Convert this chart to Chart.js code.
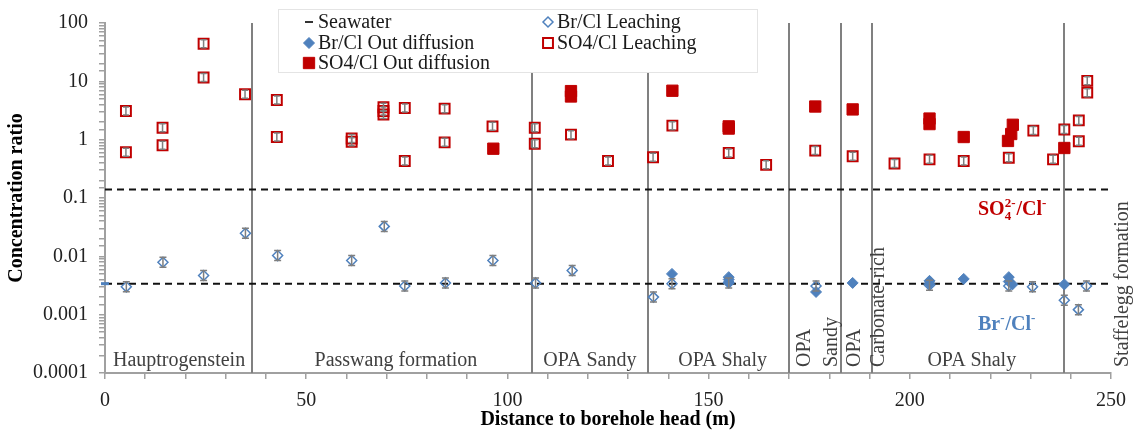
<!DOCTYPE html>
<html lang="en">
<head>
<meta charset="UTF-8">
<script src="https://cdn.jsdelivr.net/npm/chart.js"></script>
<title>Concentration ratio</title>
<style>
  body { margin: 0; background: #fff; }
  #wrap { width: 1137px; height: 432px; }
</style>
</head>
<body>
<div id="wrap"><canvas id="myChart" width="1137" height="432"></canvas></div>

<script>
// distance to borehole head (m) / ratio
const brLeachX = [5.3, 14.4, 24.5, 34.9, 42.9, 61.3, 69.4, 74.5, 84.6, 96.4, 107, 116.1, 136.3, 140.9, 155, 176.7, 204.9, 224.6, 230.5, 238.4, 241.9, 243.9];
const brLeachY = [0.0030, 0.0079, 0.0047, 0.0248, 0.0103, 0.0085, 0.0326, 0.0031, 0.0035, 0.0085, 0.0035, 0.0057, 0.0020, 0.0034, 0.0035, 0.0031, 0.0032, 0.0031, 0.0030, 0.00177, 0.00122, 0.0031];

const brDiffX = [140.9, 155, 155, 155, 176.7, 185.8, 204.9, 204.9, 213.4, 224.6, 224.6, 225.5, 238.4];
const brDiffY = [0.0050, 0.0044, 0.0040, 0.0036, 0.00245, 0.0035, 0.0038, 0.0034, 0.0041, 0.0044, 0.0037, 0.0033, 0.0033];

const so4LeachX = [5.2, 5.2, 14.3, 14.3, 24.5, 24.5, 34.8, 42.7, 42.7, 61.3, 61.3, 69.2, 69.2, 69.2, 74.5, 74.5, 84.4, 84.4, 96.3, 106.8, 106.8, 115.8, 125, 136.2, 141, 155, 164.3, 176.5, 185.8, 196.2, 204.9, 213.4, 224.6, 230.7, 235.6, 238.4, 242, 242, 244.1, 244.1];
const so4LeachY = [3.1, 0.61, 1.6, 0.80, 44, 11.6, 6.0, 4.8, 1.11, 1.05, 0.92, 3.6, 3.1, 2.7, 3.5, 0.43, 3.4, 0.90, 1.69, 1.6, 0.85, 1.22, 0.43, 0.50, 1.74, 0.59, 0.37, 0.65, 0.52, 0.39, 0.46, 0.43, 0.49, 1.43, 0.46, 1.49, 2.14, 0.94, 10.2, 6.4];

const so4DiffX = [96.5, 115.8, 115.8, 141, 155, 155, 176.5, 185.8, 204.9, 204.9, 213.4, 224.4, 225.2, 225.6, 238.4];
const so4DiffY = [0.70, 6.8, 5.5, 6.9, 1.69, 1.55, 3.7, 3.3, 2.3, 1.85, 1.11, 0.95, 1.25, 1.8, 0.72];

// seawater reference ratios
const seawaterX = [0, 250];
const seawaterSO4 = 0.14;
const seawaterBr = 0.0034;

// formation boundaries (m) and labels
const boundaries = [36.6, 106, 135, 170, 183, 190.7, 238.3];
const flatNames = ['Hauptrogenstein', 'Passwang formation', 'OPA Sandy', 'OPA Shaly', 'OPA Shaly'];
const flatAt = [18.4, 72.3, 120.5, 153.5, 215.4];
const upNames = ['OPA', 'Sandy', 'OPA', 'Carbonate-rich', 'Staffelegg formation'];
const upAt = [173.8, 180.5, 186.3, 192.2, 253];

const xTickLabels = ['0', '50', '100', '150', '200', '250'];
const yTickLabels = ['0.0001', '0.001', '0.01', '0.1', '1', '10', '100'];

const red = '#c00000';
const blue = '#4f81bd';
const fam = '"Liberation Serif", "Times New Roman", serif';

const pts = (xs, ys) => xs.map((v, i) => ({x: v, y: ys[i]}));

const overlay = {
    id: 'overlay',
    beforeDatasetsDraw(chart) {
        const {ctx, chartArea: a, scales: {x}} = chart;
        ctx.save();
        ctx.strokeStyle = '#808080';
        ctx.lineWidth = 2;
        boundaries.forEach(b => {
            const px = Math.round(x.getPixelForValue(b));
            ctx.beginPath();
            ctx.moveTo(px, a.top);
            ctx.lineTo(px, a.bottom);
            ctx.stroke();
        });
        ctx.fillStyle = '#404040';
        ctx.font = '20px ' + fam;
        ctx.textAlign = 'center';
        ctx.textBaseline = 'alphabetic';
        flatNames.forEach((n, i) => ctx.fillText(n, x.getPixelForValue(flatAt[i]), a.bottom - 7));
        upNames.forEach((n, i) => {
            ctx.save();
            ctx.translate(x.getPixelForValue(upAt[i]), a.bottom - 6);
            ctx.rotate(-Math.PI / 2);
            ctx.textAlign = 'left';
            ctx.textBaseline = 'middle';
            ctx.fillText(n, 0, 0);
            ctx.restore();
        });
        ctx.restore();
    },
    afterDatasetsDraw(chart) {
        // little error bars on the leaching points
        const ctx = chart.ctx;
        ctx.save();
        ctx.strokeStyle = '#7f7f7f';
        ctx.lineWidth = 1.5;
        chart.data.datasets.forEach((ds, i) => {
            if (!ds.errBar) return;
            const [h, w] = ds.errBar;
            chart.getDatasetMeta(i).data.forEach(p => {
                ctx.beginPath();
                ctx.moveTo(p.x, p.y - h); ctx.lineTo(p.x, p.y + h);
                ctx.moveTo(p.x - w, p.y - h); ctx.lineTo(p.x + w, p.y - h);
                ctx.moveTo(p.x - w, p.y + h); ctx.lineTo(p.x + w, p.y + h);
                ctx.stroke();
            });
        });
        ctx.restore();
    },
    afterDraw(chart) {
        const {ctx, scales: {y}} = chart;
        ctx.save();
        // legend box
        ctx.fillStyle = '#fff';
        ctx.fillRect(278, 9, 479, 63);
        ctx.strokeStyle = '#e4e4e4';
        ctx.lineWidth = 1;
        ctx.strokeRect(278.5, 9.5, 479, 63);
        const colX = [309, 548];
        const rowY = [22, 43, 63];
        ctx.font = '20px ' + fam;
        ctx.textBaseline = 'middle';
        ctx.textAlign = 'left';
        chart.data.datasets.forEach(ds => {
            if (ds.slot === undefined) return;
            const cx = colX[ds.slot % 2], cy = rowY[Math.floor(ds.slot / 2)];
            if (ds.pointStyle === 'line') {
                ctx.fillStyle = '#333';
                ctx.fillRect(cx - 4, cy - 1, 8, 2);
            } else {
                ctx.fillStyle = ds.backgroundColor;
                ctx.strokeStyle = ds.borderColor;
                ctx.lineWidth = ds.borderWidth;
                Chart.helpers.drawPoint(ctx, {pointStyle: ds.pointStyle, radius: ds.pointRadius, borderWidth: ds.borderWidth, rotation: 0}, cx, cy);
            }
            ctx.fillStyle = '#1a1a1a';
            ctx.fillText(ds.label, cx + 9, cy + 1);
        });
        // ion ratio annotations: [text, 'sub' | 'sup' | undefined, advance?]
        const ion = (parts, px, py, color) => {
            ctx.fillStyle = color;
            let cx = px;
            parts.forEach(([t, kind, keep]) => {
                ctx.font = (kind ? 'bold 13px ' : 'bold 20px ') + fam;
                const dy = kind === 'sub' ? 5 : kind === 'sup' ? -8 : 0;
                ctx.fillText(t, cx, py + dy);
                if (!keep) cx += ctx.measureText(t).width + (kind ? 1 : 0);
            });
        };
        ctx.textBaseline = 'alphabetic';
        ion([['SO'], ['4', 'sub', true], ['2-', 'sup'], ['/Cl'], ['-', 'sup']], 978, y.getPixelForValue(0.052), red);
        ion([['Br'], ['-', 'sup'], ['/Cl'], ['-', 'sup']], 978, y.getPixelForValue(0.00055), blue);
        ctx.restore();
    }
};

new Chart(document.getElementById('myChart'), {
    type: 'scatter',
    data: {
        datasets: [
            {
                label: 'Seawater', slot: 0, type: 'line', pointStyle: 'line',
                data: pts(seawaterX, [seawaterSO4, seawaterSO4]),
                borderColor: '#111', borderWidth: 2, borderDash: [7, 5], pointRadius: 0, order: 9
            },
            {
                label: 'Seawater Br', type: 'line',
                data: pts(seawaterX, [seawaterBr, seawaterBr]),
                borderColor: '#111', borderWidth: 2, borderDash: [7, 5], pointRadius: 0, order: 9
            },
            {
                label: 'Seawater Br marker',
                data: pts([0], [seawaterBr]),
                pointStyle: 'line', pointRadius: 4, borderColor: blue, borderWidth: 3, clip: false, order: 8
            },
            {
                label: 'Br/Cl Leaching', slot: 1, errBar: [5, 3.5],
                data: pts(brLeachX, brLeachY),
                pointStyle: 'rectRot', pointRadius: 5, borderWidth: 1.5,
                borderColor: blue, backgroundColor: 'rgba(255,255,255,0)', order: 1
            },
            {
                label: 'Br/Cl Out diffusion', slot: 2,
                data: pts(brDiffX, brDiffY),
                pointStyle: 'rectRot', pointRadius: 5.5, borderWidth: 1,
                borderColor: blue, backgroundColor: blue, order: 2
            },
            {
                label: 'SO4/Cl Leaching', slot: 3, errBar: [4, 3],
                data: pts(so4LeachX, so4LeachY),
                pointStyle: 'rect', pointRadius: 7, borderWidth: 2,
                borderColor: red, backgroundColor: 'rgba(255,255,255,0)', order: 3
            },
            {
                label: 'SO4/Cl Out diffusion', slot: 4,
                data: pts(so4DiffX, so4DiffY),
                pointStyle: 'rect', pointRadius: 8, borderWidth: 1,
                borderColor: red, backgroundColor: red, order: 4
            }
        ]
    },
    options: {
        responsive: false,
        animation: false,
        layout: { padding: { left: 0, right: 26, top: 21, bottom: 0 } },
        plugins: { legend: { display: false }, tooltip: { enabled: false } },
        scales: {
            x: {
                type: 'linear', min: 0, max: 250,
                afterFit: s => { s.height = 59; },
                ticks: {
                    stepSize: 10, autoSkip: false, maxRotation: 0, padding: 10,
                    color: '#222', font: { family: fam, size: 20 },
                    callback: v => v % 50 === 0 ? xTickLabels[v / 50] : ''
                },
                grid: { drawOnChartArea: false, drawTicks: true, tickLength: 6, color: '#a0a0a0', lineWidth: 1.5 },
                border: { color: '#a0a0a0', width: 2 },
                title: {
                    display: true, text: 'Distance to borehole head (m)', color: '#000',
                    font: { family: fam, size: 20, weight: 'bold' }, padding: { top: 0, bottom: 0 }
                }
            },
            y: {
                type: 'logarithmic', min: 0.0001, max: 100,
                afterFit: s => { s.width = 105; },
                ticks: {
                    autoSkip: false, padding: 11, color: '#222', font: { family: fam, size: 20 },
                    callback: v => {
                        const e = Math.log10(v), r = Math.round(e);
                        return Math.abs(e - r) < 1e-6 ? yTickLabels[r + 4] : '';
                    }
                },
                grid: { drawOnChartArea: false, drawTicks: true, tickLength: 6, color: '#a0a0a0', lineWidth: 1.5 },
                border: { color: '#a0a0a0', width: 2 },
                title: {
                    display: true, text: 'Concentration ratio', color: '#000',
                    font: { family: fam, size: 20, weight: 'bold' }, padding: { top: 5, bottom: 0 }
                }
            }
        }
    },
    plugins: [overlay]
});
</script>
</body>
</html>
